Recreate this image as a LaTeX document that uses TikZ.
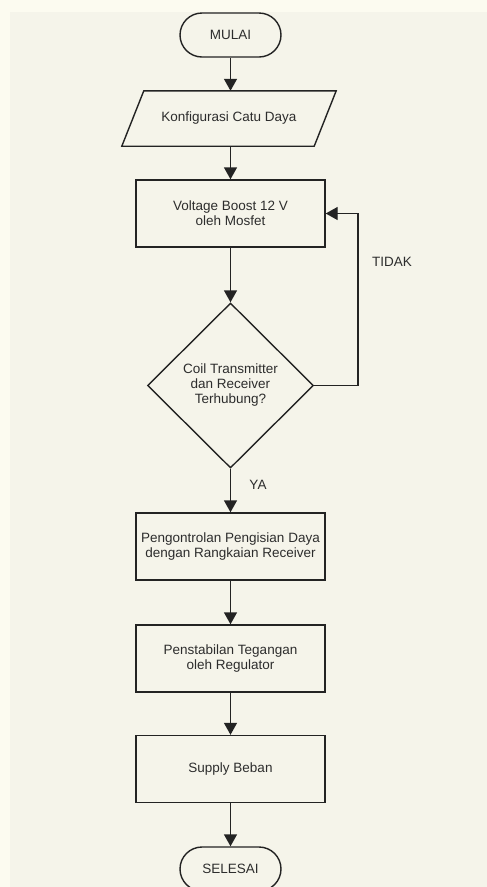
\documentclass[tikz,border=0pt]{standalone}
\usepackage{fontspec}
\setmainfont{Liberation Sans}
\usetikzlibrary{arrows.meta,shapes.geometric,calc}
\definecolor{bgc}{RGB}{245,244,234}
\definecolor{bgtop}{RGB}{252,251,240}
\definecolor{linec}{RGB}{35,35,35}
\definecolor{txtc}{RGB}{45,45,45}
\tikzset{
  base/.style={font=\fontsize{13.5pt}{15pt}\selectfont, text=txtc, align=center, inner sep=0pt},
  procbox/.style={base, draw=linec, line width=1.4pt, rectangle, minimum width=189pt, minimum height=67pt},
  termbox/.style={base, draw=linec, line width=1.4pt, rectangle, rounded corners=22pt, minimum width=101pt, minimum height=44pt},
  iobox/.style={base, rectangle, minimum width=192pt, minimum height=55pt},
  decbox/.style={base, draw=linec, line width=1.4pt, diamond, aspect=1.006, minimum width=166pt, minimum height=165pt},
  arr/.style={draw=linec, line width=1.4pt, -{Triangle[width=13pt,length=12pt]}},
  lbl/.style={base}
}
\begin{document}
\begin{tikzpicture}[x=1pt,y=-1pt]
\useasboundingbox (0,0) rectangle (487,887);
\clip (0,0) rectangle (487,887);
\fill[bgtop] (0,0) rectangle (487,887);
\fill[bgc] (10,12) rectangle (487,887);
\node[termbox] (mulai) at (230.5,35) {MULAI};
\node[iobox] (konf) at (229,118.5) {Konfigurasi Catu Daya};
\draw[draw=linec, line width=1.4pt, line join=miter]
  ([xshift=11pt]konf.north west) -- ([xshift=11pt]konf.north east) --
  ([xshift=-11pt]konf.south east) -- ([xshift=-11pt]konf.south west) -- cycle;
\node[procbox] (boost) at (230.5,213.5) {Voltage Boost 12 V\\oleh Mosfet};
\node[decbox] (dec) at (230.5,385.5) {Coil Transmitter\\dan Receiver\\Terhubung?};
\node[procbox] (peng) at (230.5,546.5) {Pengontrolan Pengisian Daya\\dengan Rangkaian Receiver};
\node[procbox] (pens) at (230.5,658.5) {Penstabilan Tegangan\\oleh Regulator};
\node[procbox] (supp) at (230.5,769) {Supply Beban};
\node[termbox] (sel) at (230.5,869) {SELESAI};
\coordinate (fbx) at (358,0);
\draw[arr] (mulai.south) -- (mulai.south |- konf.north);
\draw[arr] (mulai.south |- konf.south) -- (boost.north);
\draw[arr] (boost.south) -- (dec.north);
\draw[arr] (dec.south) -- (peng.north);
\draw[arr] (peng.south) -- (pens.north);
\draw[arr] (pens.south) -- (supp.north);
\draw[arr] (supp.south) -- (sel.north);
\draw[arr] (dec.east) -- (dec.east -| fbx) -- (boost.east -| fbx) -- (boost.east);
\node[lbl] (tidak) at (392,262) {TIDAK};
\node[lbl] (ya) at (258,485) {YA};
\end{tikzpicture}
\end{document}
